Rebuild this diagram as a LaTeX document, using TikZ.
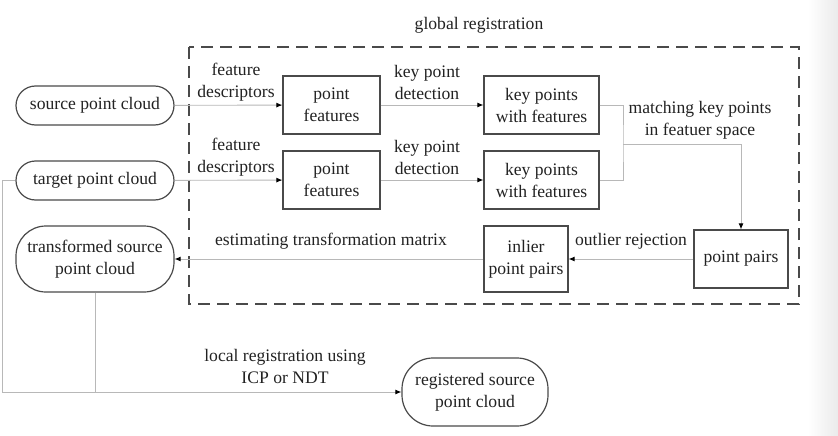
\documentclass[tikz,border=0pt]{standalone}
\usepackage{fontspec}
\setmainfont{Liberation Serif}
\newfontfamily\tnrfont{Liberation Serif}
\usetikzlibrary{arrows.meta}
\definecolor{txt}{HTML}{222222}
\definecolor{brd}{HTML}{4A4A4A}
\definecolor{lin}{HTML}{B8B8B8}
\begin{document}
\begin{tikzpicture}[x=1pt,y=-1pt,
  every node/.style={font=\tnrfont\fontsize{17.6}{22}\selectfont, text=txt, align=center, inner sep=0pt},
  boxn/.style={draw=brd, line width=1.2pt},
  pill/.style={draw=brd, line width=1.2pt},
  lbl/.style={},
  conn/.style={draw=lin, line width=0.9pt},
  arr/.style={conn, -{Latex[length=6pt,width=5pt,color=black]}}]
\useasboundingbox (0,0) rectangle (838,436);
\fill[white] (0,0) rectangle (838,436);
\shade[left color=white, right color=black!8] (808,0) rectangle (838,436);

% dashed frame
\draw[brd, line width=1.1pt, dash pattern=on 12pt off 7pt] (189,47) rectangle (799,304);
\node[lbl] (glob) at (479,25) {global registration};

% pills
\node[pill, minimum width=158pt, minimum height=39pt, rounded corners=19.5pt] (src) at (95,105.5) {source point cloud};
\node[pill, minimum width=158pt, minimum height=39pt, rounded corners=19.5pt] (tgt) at (95,180.5) {target point cloud};
\node[pill, minimum width=158pt, minimum height=66pt, rounded corners=30pt] (trans) at (95,259) {transformed source\\point cloud};
\node[pill, minimum width=146pt, minimum height=68pt, rounded corners=31pt] (reg) at (475,392) {registered source\\point cloud};

% boxes
\node[boxn, minimum width=97pt, minimum height=58pt] (pf1) at (331.5,105) {point\\features};
\node[boxn, minimum width=97pt, minimum height=58pt] (pf2) at (331.5,180) {point\\features};
\node[boxn, minimum width=115pt, minimum height=58pt] (kp1) at (541.5,105) {key points\\with features};
\node[boxn, minimum width=115pt, minimum height=58pt] (kp2) at (541.5,180) {key points\\with features};
\node[boxn, minimum width=94pt, minimum height=58pt] (pp) at (741,259) {point pairs};
\node[boxn, minimum width=84pt, minimum height=66pt] (inl) at (526,259) {inlier\\point pairs};

% labels
\node[lbl] (fd1) at (236,82) {feature\\descriptors};
\node[lbl] (fd2) at (236,157) {feature\\descriptors};
\node[lbl] (kd1) at (427,82) {key point\\detection};
\node[lbl] (kd2) at (427,157) {key point\\detection};
\node[lbl] (mk) at (700,120) {matching key points\\in featuer space};
\node[lbl] (est) at (331,241) {estimating transformation matrix};
\node[lbl] (out) at (631,241) {outlier rejection};
\node[lbl] (loc) at (285,366) {local registration using\\ICP or NDT};

% connectors
\draw[arr] (src) -- (pf1);
\draw[arr] (tgt) -- (pf2);
\draw[arr] (pf1) -- (kp1);
\draw[arr] (pf2) -- (kp2);
\coordinate (m) at (623,144);
\draw[conn] (kp1.east) -| (m) |- (kp2.east);
\draw[arr] (m) -| (pp.north);
\draw[arr] (pp) -- (inl);
\draw[arr] (inl) -- (trans);
\coordinate (lt) at (2,180.5);
\draw[arr] (tgt.west) -- (lt) |- (reg.west);
\draw[conn] (trans.south) -- (trans.south |- reg.west);
\end{tikzpicture}
\end{document}
